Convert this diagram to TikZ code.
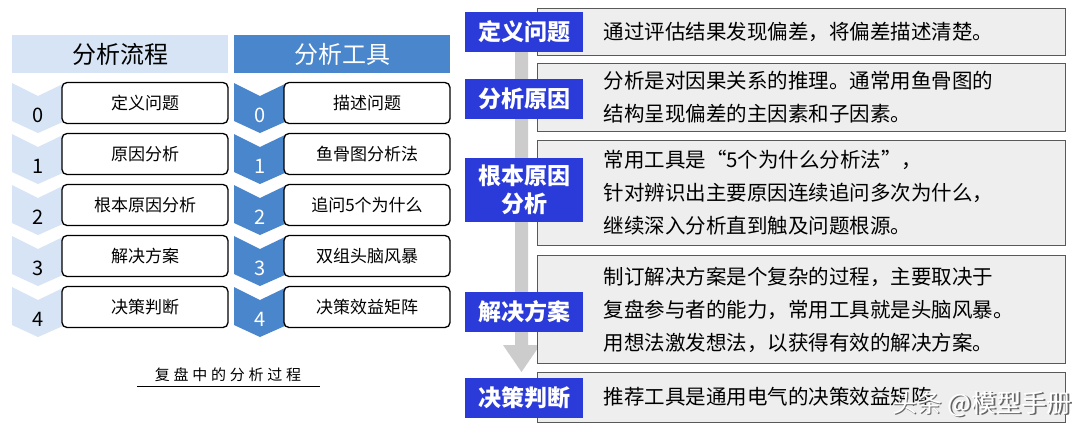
\documentclass[tikz,border=0pt]{standalone}
\usepackage{fontspec}
\setmainfont{Noto Sans CJK SC}
\begin{document}
\begin{tikzpicture}[x=1pt,y=-1pt,
  hdr/.style={minimum width=216pt,minimum height=38pt,inner sep=0pt,font=\fontsize{24}{26}\selectfont},
  wbox/.style={draw=black,line width=1.3pt,fill=white,rounded corners=5pt,minimum width=166pt,minimum height=41pt,inner sep=0pt,font=\fontsize{17}{19}\selectfont},
  num/.style={font=\fontsize{20}{22}\selectfont},
  lab/.style={fill=lblue,text=white,font=\bfseries\fontsize{23}{26}\selectfont,minimum width=118pt,inner sep=0pt,align=center},
  gbox/.style={draw=gray!70!black,line width=1pt,fill=gray!13,minimum width=528pt,inner sep=0pt},
  txt/.style={font=\fontsize{20.5}{33}\selectfont,align=left,anchor=west}]
\definecolor{pale}{HTML}{D6E4F5}
\definecolor{mblue}{HTML}{4A86CC}
\definecolor{lblue}{HTML}{2B3BD9}
\useasboundingbox (0,0) rectangle (1092,432);
\fill[white] (0,0) rectangle (1092,432);
% headers
\node[hdr,fill=pale] (h1) at (120,54) {分析流程};
\node[hdr,fill=mblue,text=white] (h2) at (342,54) {分析工具};
% rows
\foreach \i/\a/\b in {0/定义问题/描述问题,1/原因分析/鱼骨图分析法,2/根本原因分析/追问5个为什么,3/解决方案/双组头脑风暴,4/决策判断/决策效益矩阵}{
  \pgfmathsetmacro{\yy}{83+51*\i}
  \fill[pale] (12,\yy) -- (38,\yy+13) -- (65,\yy) -- (65,\yy+38) -- (38,\yy+50) -- (12,\yy+38) -- cycle;
  \fill[mblue] (234,\yy) -- (260,\yy+13) -- (287,\yy) -- (287,\yy+38) -- (260,\yy+50) -- (234,\yy+38) -- cycle;
  \node[num] (na\i) at (38,\yy+32) {\i};
  \node[num,text=white] (nb\i) at (260,\yy+32) {\i};
  \node[wbox] (a\i) at (145,\yy+20) {\a};
  \node[wbox] (b\i) at (367,\yy+20) {\b};
}
\node[font=\fontsize{15}{17}\selectfont] (cap) at (228,375) {\addfontfeature{LetterSpace=25}复盘中的分析过程};
\draw[line width=0.8pt] (137,386) -- (320,386);
% arrow
\fill[gray!40] (515,50) -- (528,50) -- (528,345) -- (540,345) -- (521.5,372) -- (503,345) -- (515,345) -- cycle;
% gray boxes
\node[gbox,minimum height=47pt] (g1) at (801,31.5) {};
\node[gbox,minimum height=68pt] (g2) at (801,97) {};
\node[gbox,minimum height=105pt] (g3) at (801,192.5) {};
\node[gbox,minimum height=108pt] (g4) at (801,309) {};
\node[gbox,minimum height=50pt] (g5) at (801,397) {};
\node[txt] (t1) at (600,31.5) {通过评估结果发现偏差，将偏差描述清楚。};
\node[txt] (t2) at (600,97) {分析是对因果关系的推理。通常用鱼骨图的\\结构呈现偏差的主因素和子因素。};
\node[txt] (t3) at (600,193) {常用工具是“5个为什么分析法”，\\针对辨识出主要原因连续追问多次为什么，\\继续深入分析直到触及问题根源。};
\node[txt] (t4) at (600,310) {制订解决方案是个复杂的过程，主要取决于\\复盘参与者的能力，常用工具就是头脑风暴。\\用想法激发想法，以获得有效的解决方案。};
\node[txt] (t5) at (600,397) {推荐工具是通用电气的决策效益矩阵};
% labels
\node[lab,minimum height=40pt] (l1) at (524,32) {定义问题};
\node[lab,minimum height=40pt] (l2) at (524,99) {分析原因};
\node[lab,minimum height=64pt,font=\bfseries\fontsize{23}{28}\selectfont] (l3) at (524,190) {根本原因\\分析};
\node[lab,minimum height=40pt] (l4) at (524,312) {解决方案};
\node[lab,minimum height=40pt] (l5) at (524,398) {决策判断};
% watermark
\node[font=\fontsize{25}{27}\selectfont] (wm0) at (983.5,405.5) {\textcolor{gray!80!black}{头条 @模型手册}};
\node[font=\fontsize{25}{27}\selectfont,text=white] (wm) at (982,404) {头条 @模型手册};
\end{tikzpicture}
\end{document}
